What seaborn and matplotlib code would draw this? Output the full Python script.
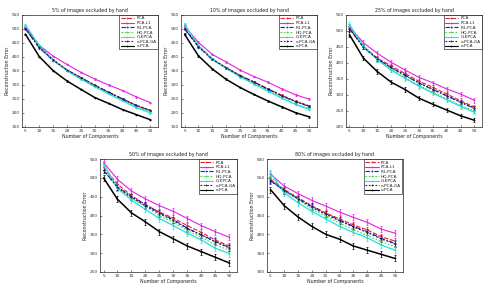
import numpy as np
import pandas as pd
import matplotlib
matplotlib.use("Agg")
import matplotlib.pyplot as plt
import seaborn as sns

components = [5, 10, 15, 20, 25, 30, 35, 40, 45, 50]
methods = ["PCA", "PCA-L1", "R1-PCA", "HQ-PCA", "G-KPCA", "e-PCA-GA", "e-PCA"]

# reconstruction errors, one row per method (same order as methods)
occ5 = [
    [502, 436, 390, 353, 325, 298, 273, 249, 226, 209],
    [508, 441, 403, 373, 345, 321, 300, 280, 257, 237],
    [500, 432, 387, 353, 326, 299, 274, 250, 227, 208],
    [510, 438, 389, 351, 323, 295, 270, 245, 221, 203],
    [514, 440, 389, 350, 321, 293, 268, 243, 219, 200],
    [501, 434, 389, 353, 326, 299, 274, 250, 227, 209],
    [481, 401, 351, 314, 284, 255, 234, 212, 194, 176],
]
occ10 = [
    [502, 440, 393, 362, 334, 311, 287, 263, 242, 225],
    [510, 452, 409, 382, 353, 330, 310, 286, 265, 249],
    [500, 436, 391, 361, 333, 310, 285, 261, 240, 223],
    [514, 440, 393, 360, 330, 305, 280, 255, 232, 216],
    [517, 441, 392, 359, 329, 303, 278, 253, 230, 212],
    [501, 437, 391, 361, 333, 310, 285, 262, 241, 224],
    [481, 404, 357, 320, 291, 266, 243, 222, 201, 186],
]
occ25 = [
    [508, 452, 415, 391, 367, 343, 324, 303, 282, 262],
    [513, 463, 430, 402, 378, 355, 338, 319, 303, 283],
    [507, 449, 413, 385, 361, 337, 317, 297, 277, 258],
    [515, 451, 411, 380, 354, 330, 309, 288, 267, 251],
    [520, 452, 410, 378, 352, 327, 306, 285, 264, 246],
    [507, 449, 413, 386, 362, 338, 318, 298, 278, 259],
    [488, 415, 373, 340, 317, 290, 271, 253, 235, 221],
]
occ50 = [
    [528, 483, 453, 429, 409, 393, 373, 355, 335, 319],
    [541, 496, 465, 444, 426, 411, 392, 373, 357, 342],
    [520, 476, 450, 429, 407, 389, 366, 349, 331, 315],
    [530, 474, 446, 424, 399, 382, 360, 342, 322, 308],
    [537, 472, 441, 416, 392, 373, 353, 335, 313, 299],
    [521, 475, 448, 426, 405, 387, 365, 348, 330, 314],
    [500, 443, 407, 383, 357, 338, 319, 304, 289, 274],
]
occ80 = [
    [546, 519, 497, 476, 457, 441, 425, 412, 394, 382],
    [560, 528, 508, 490, 475, 459, 445, 432, 414, 403],
    [542, 517, 495, 474, 455, 438, 421, 407, 390, 376],
    [553, 515, 493, 467, 448, 430, 412, 397, 381, 367],
    [564, 510, 484, 461, 441, 421, 405, 391, 372, 358],
    [543, 516, 494, 472, 453, 436, 420, 405, 388, 375],
    [519, 476, 446, 421, 400, 387, 369, 358, 347, 336],
]

titles = ["5% of images occluded by hand", "10% of images occluded by hand",
          "25% of images occluded by hand", "50% of images occluded by hand",
          "80% of images occluded by hand"]
panels = [occ5, occ10, occ25, occ50, occ80]
err_sizes = [2, 3, 7, 8, 8]
y_limits = [(150, 550), (150, 550), (200, 550), (250, 550), (300, 600)]

colors = {"PCA": "#e8232a", "PCA-L1": "#e620e6", "R1-PCA": "#1c1ce0",
          "HQ-PCA": "#3fd63f", "G-KPCA": "#22e0e0", "e-PCA-GA": "#222244",
          "e-PCA": "#000000"}
dashes = {"PCA": (4, 1.5), "PCA-L1": "", "R1-PCA": (4, 1.5, 1, 1.5),
          "HQ-PCA": (1.5, 1.5), "G-KPCA": "", "e-PCA-GA": (1.5, 1.5),
          "e-PCA": ""}
widths = {"PCA": 0.8, "PCA-L1": 0.8, "R1-PCA": 0.8, "HQ-PCA": 0.8,
          "G-KPCA": 0.9, "e-PCA-GA": 0.9, "e-PCA": 1.1}

sns.set_style("ticks")
plt.rcParams["font.family"] = ["DejaVu Sans"]

fig = plt.figure(figsize=(4.91, 2.86), dpi=100)
positions = [
    [0.045, 0.556, 0.277, 0.392],
    [0.369, 0.556, 0.277, 0.392],
    [0.705, 0.556, 0.277, 0.392],
    [0.204, 0.049, 0.279, 0.395],
    [0.544, 0.049, 0.276, 0.395],
]

for i, data in enumerate(panels):
    ax = fig.add_axes(positions[i])
    rows = []
    for m, vals in zip(methods, data):
        for c, v in zip(components, vals):
            rows.append({"Components": c, "Error": v, "Method": m})
    df = pd.DataFrame(rows)
    sns.lineplot(data=df, x="Components", y="Error", hue="Method",
                 style="Method", hue_order=methods, style_order=methods,
                 palette=colors, dashes=dashes, markers=["."] * 7,
                 markersize=2.5, markeredgewidth=0, linewidth=0.8,
                 ax=ax, legend=True)
    for line, m in zip(ax.lines[:7], methods):
        line.set_linewidth(widths[m])
    for m, vals in zip(methods, data):
        ax.errorbar(components, vals, yerr=err_sizes[i], fmt="none",
                    ecolor=colors[m], elinewidth=0.5, capsize=1,
                    capthick=0.5, zorder=1)
    ax.set_xlim(3.8, 52.8)
    ax.set_ylim(*y_limits[i])
    ax.set_xticks(components)
    ax.set_yticks(np.arange(y_limits[i][0], y_limits[i][1] + 1, 50))
    ax.tick_params(direction="in", length=1.5, width=0.4, labelsize=3.1,
                   pad=1.5, labelcolor="#333333")
    for s in ax.spines.values():
        s.set_linewidth(0.5)
        s.set_visible(True)
    ax.set_title(titles[i], fontsize=3.4, pad=2, color="#222222")
    ax.set_xlabel("Number of Components", fontsize=3.4, labelpad=1, color="#222222")
    ax.set_ylabel("Reconstruction Error", fontsize=3.4, labelpad=1.5, color="#222222")
    leg = ax.legend(loc="upper right", fontsize=3.1, frameon=True, fancybox=False,
                    borderaxespad=0.1, handlelength=3.2, handletextpad=0.5,
                    labelspacing=0.15, borderpad=0.25)
    leg.get_frame().set_edgecolor("black")
    leg.get_frame().set_linewidth(0.5)
    for h in leg.get_lines():
        h.set_linewidth(0.8)

fig.savefig("out.png", dpi=100)
